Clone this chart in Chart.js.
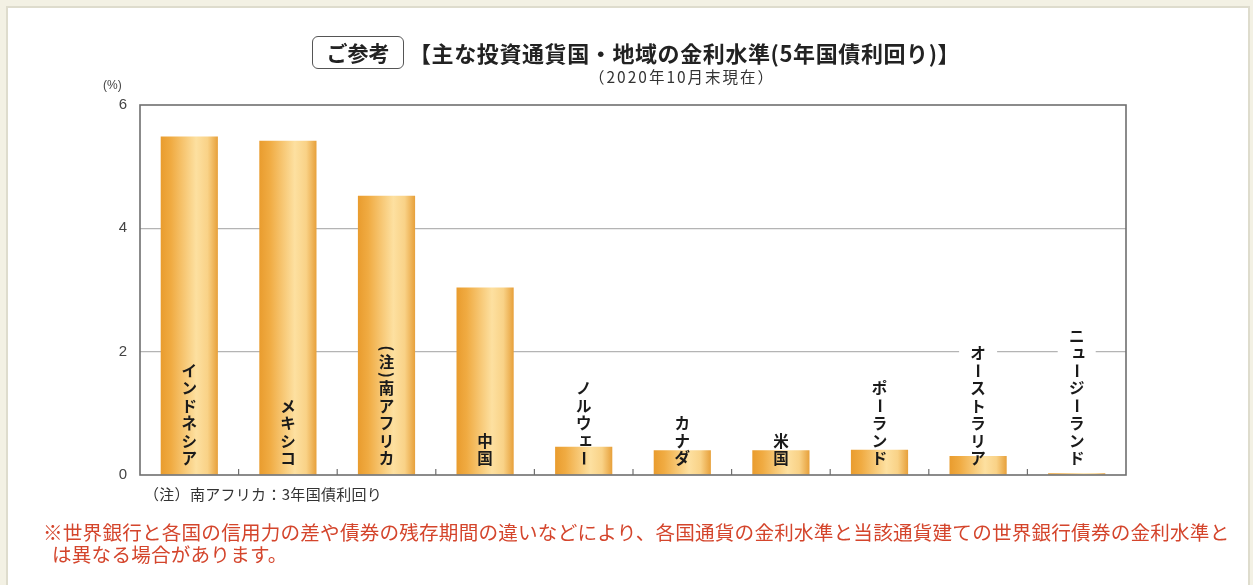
<!DOCTYPE html>
<html lang="ja">
<head>
<meta charset="utf-8">
<title>主な投資通貨国・地域の金利水準</title>
<script src="https://cdn.jsdelivr.net/npm/chart.js@4.4.1/dist/chart.umd.min.js"></script>
<style>
    html, body { margin: 0; padding: 0; }
    body { width: 1253px; height: 585px; background: #f3f1e4; position: relative; overflow: hidden;
           font-family: "Noto Sans CJK JP", "Noto Sans", sans-serif; }
    #frame { position: absolute; left: 6px; top: 6px; width: 1244px; height: 600px; background: #fff;
             border: 2px solid #dedccd; box-sizing: border-box; }
    #myChart { position: absolute; left: 0; top: 0; }
    .txt { position: absolute; white-space: nowrap; color: #222; }
    #badge { left: 312px; top: 36px; width: 92px; height: 33px; border: 1.5px solid #555; border-radius: 6px;
             box-sizing: border-box; font-weight: bold; font-size: 21px; line-height: 30px; text-align: center; }
    #title { left: 409px; top: 37px; font-weight: bold; font-size: 22px; line-height: 30px; letter-spacing: 0.6px; }
    #subtitle { left: 589px; top: 65px; font-size: 15.5px; line-height: 22px; color: #333; letter-spacing: 2px; }
    #unit { left: 103px; top: 77px; font-size: 12px; line-height: 16px; color: #444; font-family: "Liberation Sans", sans-serif; }
    #note { left: 144px; top: 483px; font-size: 15px; line-height: 22px; color: #333; letter-spacing: 0.3px; }
    #caution { left: 43px; top: 521px; color: #d4452c; font-size: 19.6px; line-height: 22px; letter-spacing: 0.2px; }
    #caution span { display: block; padding-left: 9px; }
</style>
</head>
<body>
<div id="frame"></div>
<canvas id="myChart" width="1253" height="585"></canvas>
<div class="txt" id="badge">ご参考</div>
<div class="txt" id="title">【主な投資通貨国・地域の金利水準(5年国債利回り)】</div>
<div class="txt" id="subtitle">（2020年10月末現在）</div>
<div class="txt" id="unit">(%)</div>
<div class="txt" id="note">（注）南アフリカ：3年国債利回り</div>
<div class="txt" id="caution">※世界銀行と各国の信用力の差や債券の残存期間の違いなどにより、各国通貨の金利水準と当該通貨建ての世界銀行債券の金利水準と<span>は異なる場合があります。</span></div>

<script>
'use strict';

// data (%)
var countries = ['インドネシア', 'メキシコ', '（注）南アフリカ', '中国', 'ノルウェー',
                 'カナダ', '米国', 'ポーランド', 'オーストラリア', 'ニュージーランド'];
var yields = [5.49, 5.42, 4.53, 3.04, 0.46, 0.40, 0.40, 0.41, 0.31, 0.03];
var yTicks = [0, 2, 4, 6];

(function () {
    var BAR_PCT = 0.58;
    var LABEL_BOTTOM = 467;
    var CHAR_STEP = 17.5;
    var PAREN_STEP = 9;
    var PARENS = '（）()';
    var SMALL = 'ァィゥェォャュョッ';

    function barGradient(context) {
        var chart = context.chart;
        var area = chart.chartArea;
        if (!area) {
            return '#f0b54e';
        }
        var xScale = chart.scales.x;
        var cx = xScale.getPixelForValue(context.dataIndex);
        var half = (area.right - area.left) / countries.length * BAR_PCT / 2;
        var g = chart.ctx.createLinearGradient(cx - half, 0, cx + half, 0);
        g.addColorStop(0, '#e99c2e');
        g.addColorStop(0.18, '#f0ab42');
        g.addColorStop(0.62, '#fde0a0');
        g.addColorStop(0.82, '#f9d287');
        g.addColorStop(1, '#e7a03a');
        return g;
    }

    function labelHeight(text) {
        var h = 0, i;
        for (i = 0; i < text.length; i++) {
            h += (PARENS.indexOf(text[i]) >= 0) ? PAREN_STEP : CHAR_STEP;
        }
        return h;
    }

    var labelPlugin = {
        id: 'verticalLabels',
        // white strip behind the labels so the grid lines break around them
        beforeDatasetsDraw: function (chart) {
            var ctx = chart.ctx;
            var xScale = chart.scales.x;
            ctx.save();
            ctx.fillStyle = '#ffffff';
            countries.forEach(function (name, i) {
                var cx = xScale.getPixelForValue(i);
                var h = labelHeight(name);
                ctx.fillRect(cx - 19, LABEL_BOTTOM - h - 4, 38, h + 4);
            });
            ctx.restore();
        },
        afterDatasetsDraw: function (chart) {
            var ctx = chart.ctx;
            var area = chart.chartArea;
            var xScale = chart.scales.x;
            var i, k;

            // plot frame
            ctx.save();
            ctx.strokeStyle = '#6f6f6f';
            ctx.lineWidth = 1.6;
            ctx.strokeRect(area.left, area.top, area.right - area.left, area.bottom - area.top);

            // small inward ticks between categories
            ctx.lineWidth = 1.2;
            for (i = 1; i < countries.length; i++) {
                var tx = (xScale.getPixelForValue(i - 1) + xScale.getPixelForValue(i)) / 2;
                ctx.beginPath();
                ctx.moveTo(tx, area.bottom);
                ctx.lineTo(tx, area.bottom - 6);
                ctx.stroke();
            }

            // vertical (tategaki) labels
            ctx.fillStyle = '#1a1a1a';
            ctx.font = 'bold 15.5px "Noto Sans CJK JP"';
            ctx.textAlign = 'center';
            ctx.textBaseline = 'middle';
            for (i = 0; i < countries.length; i++) {
                var name = countries[i];
                var cx = xScale.getPixelForValue(i);
                var y = LABEL_BOTTOM - labelHeight(name);
                for (k = 0; k < name.length; k++) {
                    var ch = name[k];
                    var isParen = PARENS.indexOf(ch) >= 0;
                    var step = isParen ? PAREN_STEP : CHAR_STEP;
                    var cy = y + step / 2;
                    ctx.save();
                    if (isParen || ch === 'ー') {
                        // half-width paren is centred in its box, so it turns cleanly
                        if (ch === '（') { ch = '('; }
                        if (ch === '）') { ch = ')'; }
                        ctx.translate(cx, cy);
                        ctx.rotate(Math.PI / 2);
                        ctx.fillText(ch, 0, 0);
                    } else if (SMALL.indexOf(ch) >= 0) {
                        ctx.fillText(ch, cx + 2, cy - 2);
                    } else {
                        ctx.fillText(ch, cx, cy);
                    }
                    ctx.restore();
                    y += step;
                }
            }
            ctx.restore();
        }
    };

    function drawChart() {
        var ctx = document.getElementById('myChart');

        new Chart(ctx, {
            type: 'bar',
            data: {
                labels: countries,
                datasets: [{
                    data: yields,
                    backgroundColor: barGradient,
                    borderWidth: 0,
                    categoryPercentage: 1,
                    barPercentage: BAR_PCT
                }]
            },
            options: {
                responsive: false,
                animation: false,
                layout: {
                    padding: { left: 0, top: 105, right: 127, bottom: 110 }
                },
                plugins: {
                    legend: { display: false },
                    tooltip: { enabled: false }
                },
                scales: {
                    x: {
                        grid: { display: false },
                        border: { display: false },
                        ticks: { display: false },
                        afterFit: function (scale) { scale.height = 0; }
                    },
                    y: {
                        min: 0,
                        max: 6,
                        afterBuildTicks: function (scale) {
                            scale.ticks = yTicks.map(function (v) { return { value: v }; });
                        },
                        ticks: {
                            padding: 13,
                            color: '#444',
                            font: { family: 'Liberation Sans', size: 15 }
                        },
                        grid: {
                            drawTicks: false,
                            lineWidth: 1.2,
                            color: function (c) {
                                return (c.tick && (c.tick.value === 0 || c.tick.value === 6)) ? 'rgba(0,0,0,0)' : '#b4b4b4';
                            }
                        },
                        border: { display: false },
                        afterFit: function (scale) { scale.width = 140; }
                    }
                }
            },
            plugins: [labelPlugin]
        });
    }

    drawChart();
})();
</script>
</body>
</html>
